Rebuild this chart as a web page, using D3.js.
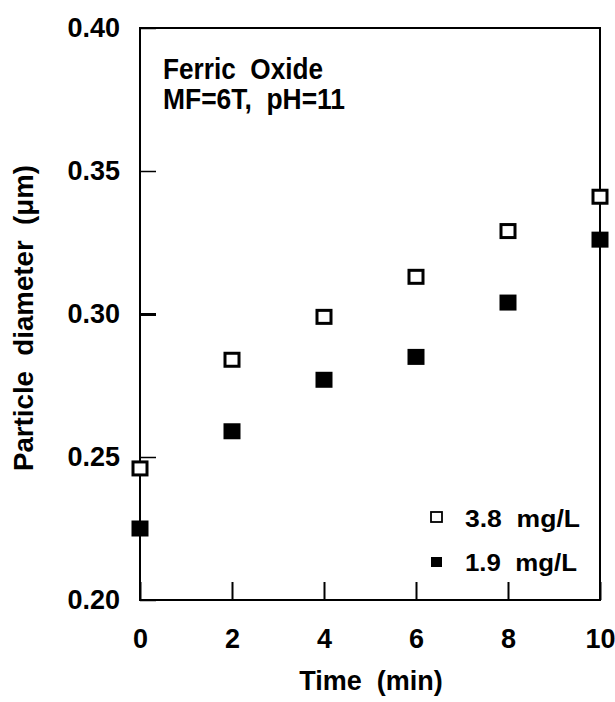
<!DOCTYPE html>
<html>
<head>
<meta charset="utf-8">
<script src="https://cdn.jsdelivr.net/npm/d3@7"></script>
<style>
  html, body { margin: 0; padding: 0; background: #fff; }
  svg { display: block; }
  text { fill: #000; }
</style>
</head>
<body>
<svg id="chart" width="615" height="702"></svg>
<script>
// ---- data ----
const times = [0, 2, 4, 6, 8, 10];
const conc38 = [0.246, 0.284, 0.299, 0.313, 0.329, 0.341];   // 3.8 mg/L (open squares)
const conc19 = [0.225, 0.259, 0.277, 0.285, 0.304, 0.326];   // 1.9 mg/L (filled squares)
const xTicks = [0, 2, 4, 6, 8, 10];
const yTicks = [0.20, 0.25, 0.30, 0.35, 0.40];
const seriesNames = ["3.8  mg/L", "1.9  mg/L"];
const annotation = ["Ferric  Oxide", "MF=6T,  pH=11"];

// ---- layout ----
const svg = d3.select("#chart");
const plotL = 140, plotR = 600, plotT = 28, plotB = 600;
const x = d3.scaleLinear().domain([0, 10]).range([plotL, plotR]);
const y = d3.scaleLinear().domain([0.20, 0.40]).range([plotB, plotT]);
const fontMain = "'Liberation Sans', Arial, Helvetica, sans-serif";

// frame
svg.append("rect")
  .attr("x", plotL).attr("y", plotT)
  .attr("width", plotR - plotL).attr("height", plotB - plotT)
  .attr("fill", "none").attr("stroke", "#000").attr("stroke-width", 2);

// y axis
const yAxis = svg.append("g")
  .attr("transform", `translate(${plotL},0)`)
  .call(d3.axisLeft(y).tickValues(yTicks).tickFormat(d3.format(".2f"))
        .tickSizeInner(-16).tickSizeOuter(0).tickPadding(20));
yAxis.select(".domain").remove();
yAxis.selectAll(".tick line").attr("stroke", "#000")
  .attr("stroke-width", d => Math.abs(d - 0.30) < 1e-9 ? 3 : 1.5);
yAxis.selectAll(".tick text")
  .attr("font-family", fontMain).attr("font-weight", "bold")
  .attr("font-size", 27).attr("fill", "#000");

// x axis
const xAxis = svg.append("g")
  .attr("transform", `translate(0,${plotB})`)
  .call(d3.axisBottom(x).tickValues(xTicks).tickFormat(d3.format("d"))
        .tickSizeInner(-18).tickSizeOuter(0).tickPadding(29));
xAxis.select(".domain").remove();
xAxis.selectAll(".tick line").attr("stroke", "#000").attr("stroke-width", 2);
xAxis.selectAll(".tick text")
  .attr("font-family", fontMain).attr("font-weight", "bold")
  .attr("font-size", 27).attr("fill", "#000");

// axis titles
svg.append("text")
  .attr("x", 371).attr("y", 690)
  .attr("text-anchor", "middle")
  .attr("font-family", fontMain).attr("font-weight", "bold").attr("font-size", 27)
  .style("white-space", "pre")
  .text("Time  (min)");

svg.append("text")
  .attr("transform", "translate(33,318) rotate(-90)")
  .attr("text-anchor", "middle")
  .attr("font-family", fontMain).attr("font-weight", "bold").attr("font-size", 27)
  .attr("textLength", 306).attr("lengthAdjust", "spacingAndGlyphs")
  .style("white-space", "pre")
  .text("Particle  diameter  (μm)");

// annotation
const annW = [160, 182];
annotation.forEach((t, i) => {
  svg.append("text")
    .attr("x", 163).attr("y", 79 + i * 30)
    .attr("font-family", fontMain).attr("font-weight", "bold").attr("font-size", 29)
    .attr("textLength", annW[i]).attr("lengthAdjust", "spacingAndGlyphs")
    .style("white-space", "pre")
    .text(t);
});

// data markers
const ms = 17, mh = 16;
svg.append("g").selectAll("rect")
  .data(times.map((t, i) => ({ t, v: conc19[i] })))
  .join("rect")
  .attr("x", d => x(d.t) - ms / 2).attr("y", d => y(d.v) - mh / 2)
  .attr("width", ms).attr("height", mh)
  .attr("fill", "#000");

svg.append("g").selectAll("rect")
  .data(times.map((t, i) => ({ t, v: conc38[i] })))
  .join("rect")
  .attr("x", d => x(d.t) - (ms - 3) / 2).attr("y", d => y(d.v) - (mh - 3) / 2)
  .attr("width", ms - 3).attr("height", mh - 3)
  .attr("fill", "#fff").attr("stroke", "#000").attr("stroke-width", 3);

// legend
const legY = [517, 562];
const legBase = [527, 571];
const legW = [115, 112];
seriesNames.forEach((name, i) => {
  const r = svg.append("rect")
    .attr("x", 431).attr("y", legY[i] - 5)
    .attr("width", 11).attr("height", 10);
  if (i === 0) r.attr("fill", "#fff").attr("stroke", "#000").attr("stroke-width", 1.8);
  else r.attr("fill", "#000");
  svg.append("text")
    .attr("x", 465).attr("y", legBase[i])
    .attr("font-family", fontMain).attr("font-weight", "bold").attr("font-size", 23)
    .attr("textLength", legW[i]).attr("lengthAdjust", "spacingAndGlyphs")
    .style("white-space", "pre")
    .text(name);
});
</script>
</body>
</html>
